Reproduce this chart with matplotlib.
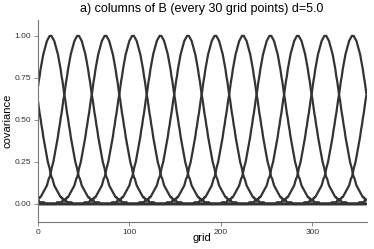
import numpy as np
import matplotlib
matplotlib.use("Agg")
import matplotlib.pyplot as plt

# grid of 360 points, one column of B every 30 grid points
n_grid = 360
col_centers = [14, 44, 74, 104, 134, 164, 194, 224, 254, 284, 314, 344]

cov_profile = [
    1.00, 1.00, 0.99, 0.98, 0.97, 0.95, 0.93, 0.91, 0.89, 0.86,
    0.83, 0.80, 0.76, 0.73, 0.69, 0.65, 0.62, 0.58, 0.54, 0.51,
    0.47, 0.44, 0.40, 0.37, 0.34, 0.31, 0.28, 0.25, 0.23, 0.21,
    0.18, 0.16, 0.15, 0.13, 0.11, 0.10, 0.09, 0.08, 0.07, 0.06,
    0.05, 0.04, 0.04, 0.03, 0.03, 0.02, 0.02, 0.02, 0.01, 0.01,
    0.01, 0.01, 0.01, 0.01,
]

plt.rcParams["font.family"] = ["Liberation Sans", "DejaVu Sans"]

grid = np.arange(n_grid)
fig = plt.figure(figsize=(3.74, 2.49), dpi=100)
ax = fig.add_axes([0.101, 0.110, 0.879, 0.810])

for c in col_centers:
    dist = np.abs(grid - c)
    dist = np.minimum(dist, n_grid - dist)
    col = [cov_profile[d] if d < len(cov_profile) else 0.0 for d in dist]
    ax.plot(grid, col, color="#333333", lw=1.6, solid_capstyle="butt")

ax.set_xlim(0, n_grid - 1)
ax.set_ylim(-0.105, 1.095)
ax.set_xticks([0, 100, 200, 300])
ax.set_yticks([0.0, 0.25, 0.5, 0.75, 1.0])
ax.set_yticklabels(["0.00", "0.25", "0.50", "0.75", "1.00"])
for s in ["top", "right"]:
    ax.spines[s].set_visible(False)
for s in ["left", "bottom"]:
    ax.spines[s].set_color("#777777")
    ax.spines[s].set_linewidth(0.8)
ax.tick_params(labelsize=6, length=3, width=0.6, color="#777777", pad=2,
               labelcolor="#333333")
ax.set_xlabel("grid", fontsize=8, labelpad=-2)
ax.set_ylabel("covariance", fontsize=8, labelpad=1)
ax.set_title("a) columns of B (every 30 grid points) d=5.0", fontsize=9, pad=6)

fig.savefig("out.png", dpi=100)
